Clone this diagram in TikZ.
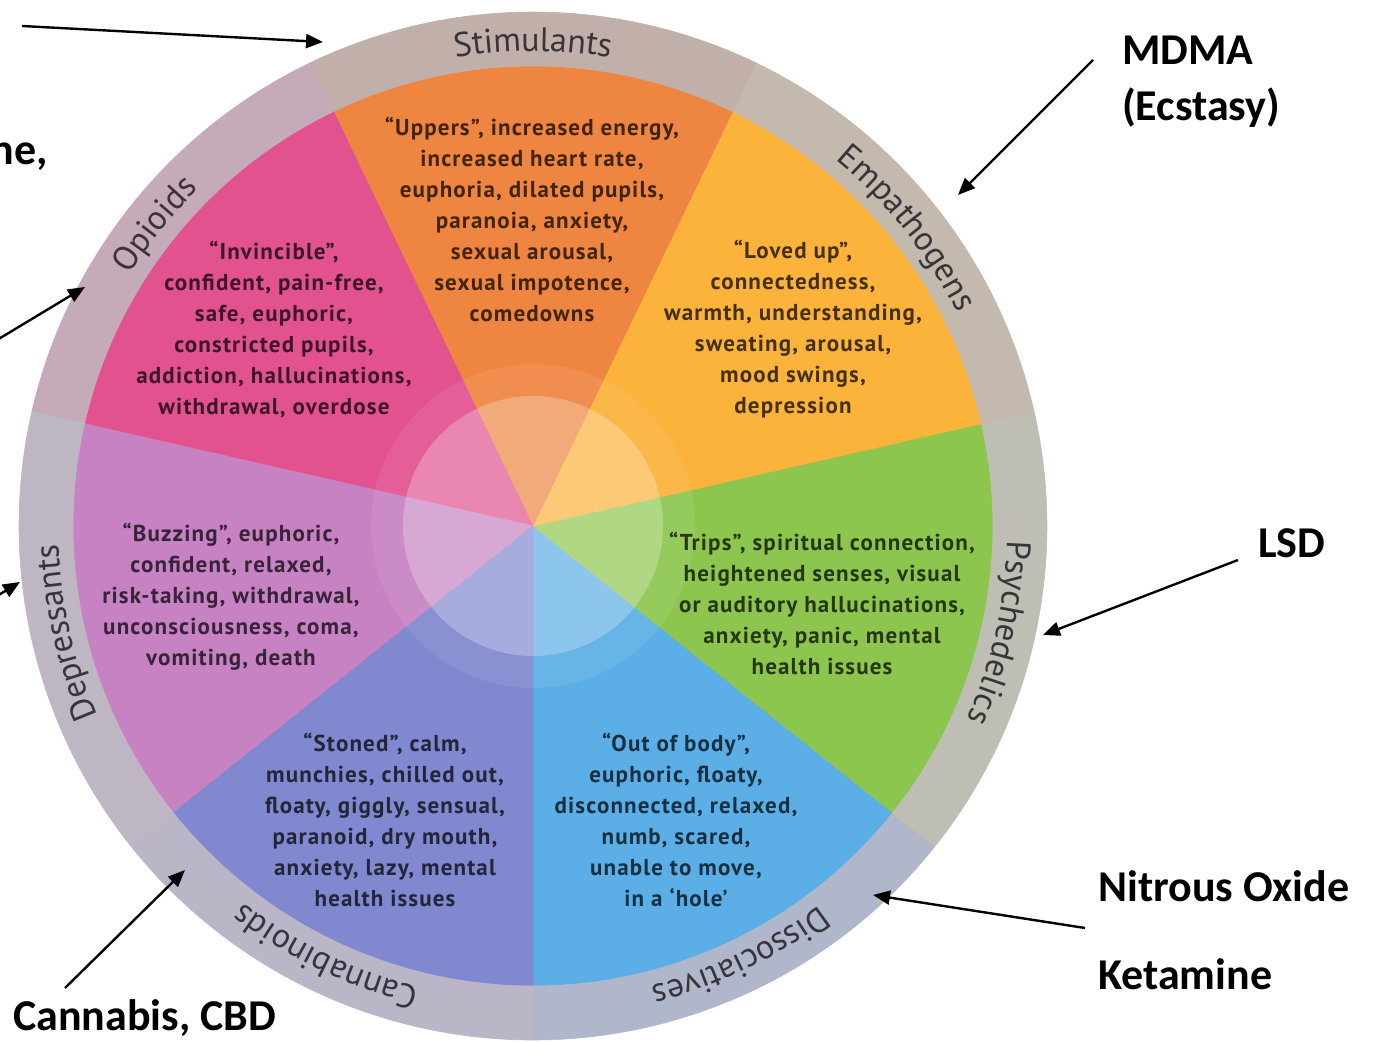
\documentclass[tikz,border=0pt]{standalone}
\usepackage{fontspec}
\setmainfont{Carlito}
\newfontfamily\wheelfont{PT Sans}
\newfontfamily\wheelwide{PT Sans}[LetterSpace=5.0]
\usetikzlibrary{decorations.text,arrows.meta}
\definecolor{cStim}{HTML}{EE8540}
\definecolor{cEmp}{HTML}{FBB33B}
\definecolor{cPsy}{HTML}{8DC64F}
\definecolor{cDis}{HTML}{5BAEE6}
\definecolor{cCan}{HTML}{8088CF}
\definecolor{cDep}{HTML}{C682C2}
\definecolor{cOpi}{HTML}{E2528F}
\definecolor{rStim}{HTML}{C1AFAA}
\definecolor{rEmp}{HTML}{C3B9AC}
\definecolor{rPsy}{HTML}{BEBEB4}
\definecolor{rDis}{HTML}{B1B7CA}
\definecolor{rCan}{HTML}{BBB5C8}
\definecolor{rDep}{HTML}{BFB6C4}
\definecolor{rOpi}{HTML}{C5AABA}
\definecolor{rtext}{HTML}{38353A}
\newcommand\ringfont{\wheelfont\fontsize{34}{36}\selectfont}
\tikzset{
  sectext/.style={align=center, inner sep=0pt, text=black, text opacity=0.72,
    font=\wheelwide\bfseries\fontsize{23}{31}\selectfont},
  ringlabel/.style={decorate, decoration={text along path, text align=center,
    text color=rtext, text={|\ringfont|#1}}},
  outlabel/.style={inner sep=0pt, font=\fontsize{44}{52}\selectfont\bfseries},
  arr/.style={line width=2.4pt, -{Triangle[length=17pt,width=14pt]}}
}
\begin{document}
\begin{tikzpicture}[x=1pt,y=1pt]
\useasboundingbox (-533,-517) rectangle (860,526);
\fill[white] (-533,-517) rectangle (860,526);
% sectors and ring
\foreach \a/\c/\r in {-90/cDis/rDis, -38.5714/cPsy/rPsy, 12.8571/cEmp/rEmp,
   64.2857/cStim/rStim, 115.7143/cOpi/rOpi, 167.1429/cDep/rDep, 218.5714/cCan/rCan}{
  \pgfmathsetmacro\b{\a+51.4286}
  \filldraw[fill=\c, draw=\c, line width=0.6pt] (0,0) -- (\a:460) arc[start angle=\a, end angle=\b, radius=460] -- cycle;
  \filldraw[fill=\r, draw=\r, line width=0.6pt] (\a:460) arc[start angle=\a, end angle=\b, radius=460]
     -- (\b:514) arc[start angle=\b, end angle=\a, radius=514] -- cycle;
}
% light centre discs
\fill[white, opacity=0.08] (0,0) circle[radius=162];
\fill[white, opacity=0.25] (0,0) circle[radius=130];
% ring labels (clockwise, letters outward)
\path[ringlabel=Stimulants] (116:475) arc[start angle=116, end angle=64, radius=475];
\path[ringlabel=Empathogens] (64.57:475) arc[start angle=64.57, end angle=12.57, radius=475];
\path[ringlabel=Psychedelics] (13.14:475) arc[start angle=13.14, end angle=-38.86, radius=475];
\path[ringlabel=Dissociatives] (-38.29:475) arc[start angle=-38.29, end angle=-90.29, radius=475];
\path[ringlabel=Cannabinoids] (270.29:475) arc[start angle=270.29, end angle=218.29, radius=475];
\path[ringlabel=Depressants] (218.86:475) arc[start angle=218.86, end angle=166.86, radius=475];
\path[ringlabel=Opioids] (167.43:475) arc[start angle=167.43, end angle=115.43, radius=475];
% sector texts
\node[sectext] (tStim) at (-1,307) {“Uppers”, increased energy,\\increased heart rate,\\euphoria, dilated pupils,\\paranoia, anxiety,\\sexual arousal,\\sexual impotence,\\comedowns};
\node[sectext] (tOpi) at (-259,196) {“Invincible”,\\confident, pain-free,\\safe, euphoric,\\constricted pupils,\\addiction, hallucinations,\\withdrawal, overdose};
\node[sectext] (tEmp) at (260,197) {“Loved up”,\\connectedness,\\warmth, understanding,\\sweating, arousal,\\mood swings,\\depression};
\node[sectext] (tDep) at (-302,-71) {“Buzzing”, euphoric,\\confident, relaxed,\\risk-taking, withdrawal,\\unconsciousness, coma,\\vomiting, death};
\node[sectext] (tPsy) at (289,-77) {“Trips”, spiritual connection,\\heightened senses, visual\\or auditory hallucinations,\\anxiety, panic, mental\\health issues};
\node[sectext] (tCan) at (-148,-294) {“Stoned”, calm,\\munchies, chilled out,\\floaty, giggly, sensual,\\paranoid, dry mouth,\\anxiety, lazy, mental\\health issues};
\node[sectext] (tDis) at (143,-294) {“Out of body”,\\euphoric, floaty,\\disconnected, relaxed,\\numb, scared,\\unable to move,\\in a ‘hole’};
% outside labels
\node[outlabel, anchor=base east] (ne) at (-485,361) {ne,};
\node[outlabel, anchor=base west] (mdma) at (589,461) {MDMA};
\node[outlabel, anchor=base west] (ecstasy) at (589,405) {(Ecstasy)};
\node[outlabel, anchor=base west] (lsd) at (725,-32) {LSD};
\node[outlabel, anchor=base west] (nitrous) at (565,-376) {Nitrous Oxide};
\node[outlabel, anchor=base west] (ketamine) at (565,-464) {Ketamine};
\node[outlabel, anchor=base west] (cannabis) at (-520,-504) {Cannabis, CBD};
% arrow end points
\coordinate (a1s) at (-511,500); \coordinate (a1e) at (-210,484);
\coordinate (a2s) at (-536,186); \coordinate (a2e) at (-448,239);
\coordinate (a3s) at (-536,-70); \coordinate (a3e) at (-513,-56);
\coordinate (a4s) at (-468,-462); \coordinate (a4e) at (-348,-344);
\coordinate (a5s) at (560,466); \coordinate (a5e) at (425,331);
\coordinate (a6s) at (705,-34); \coordinate (a6e) at (510,-109);
\coordinate (a7s) at (552,-402); \coordinate (a7e) at (340,-369);
\draw[arr] (a1s) -- (a1e);
\draw[arr] (a2s) -- (a2e);
\draw[arr] (a3s) -- (a3e);
\draw[arr] (a4s) -- (a4e);
\draw[arr] (a5s) -- (a5e);
\draw[arr] (a6s) -- (a6e);
\draw[arr] (a7s) -- (a7e);
\end{tikzpicture}
\end{document}
